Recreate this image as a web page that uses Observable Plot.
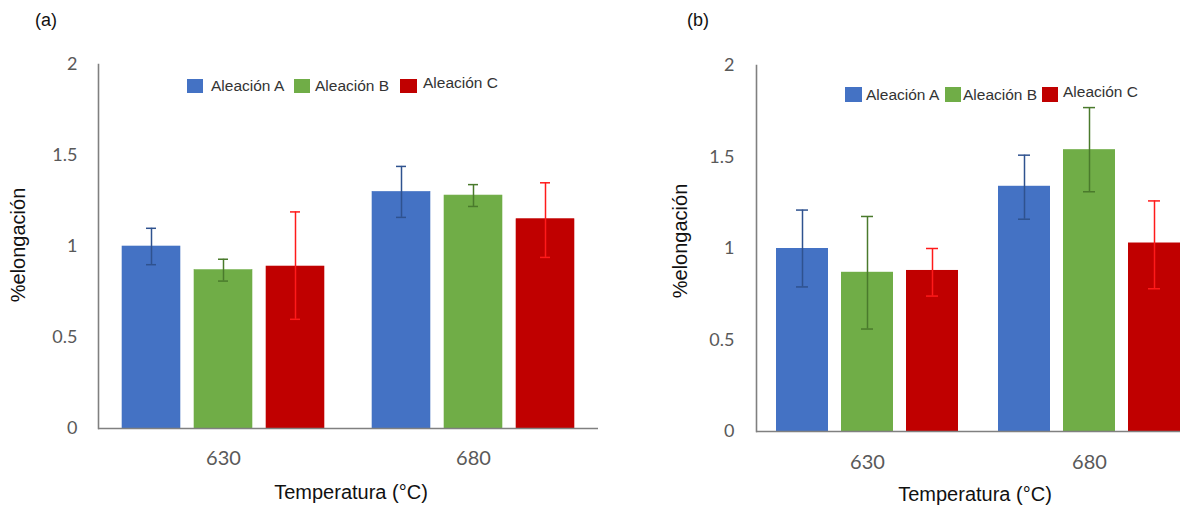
<!DOCTYPE html>
<html>
<head>
<meta charset="utf-8">
<script src="https://cdn.jsdelivr.net/npm/d3@7"></script>
<script src="https://cdn.jsdelivr.net/npm/@observablehq/plot@0.6"></script>
<style>
  html, body { margin: 0; padding: 0; background: #fff; overflow: hidden; }
  #wrap { position: relative; width: 1180px; height: 506px; overflow: hidden; background: #fff; }
  .panel { position: absolute; top: 0; width: 600px; height: 506px; }
  .panel svg { max-width: none !important; width: 600px; height: 506px; }
  .txt { position: absolute; font-family: "Liberation Sans", Arial, sans-serif; color: #111; white-space: nowrap; }
  .leg { position: absolute; font-family: "Liberation Sans", Arial, sans-serif; font-size: 15.5px; color: #333; white-space: nowrap; line-height: 1; }
  .sw { position: absolute; }
</style>
</head>
<body>
<div id="wrap"></div>
<script>
// ---- data ----
const temps = ["630", "680"];
const alloys = ["Aleación A", "Aleación B", "Aleación C"];
const barColors = ["#4472c4", "#70ad47", "#c00000"];
const errColors = ["#2f528f", "#4a7a2c", "#ff1a1a"];
const yTicks = [0, 0.5, 1, 1.5, 2];

// panel (a)
const a630 = [1.00, 0.87, 0.89];
const a680 = [1.30, 1.28, 1.15];
const a630Lo = [0.90, 0.81, 0.60];
const a630Hi = [1.10, 0.93, 1.19];
const a680Lo = [1.16, 1.22, 0.94];
const a680Hi = [1.44, 1.34, 1.35];

// panel (b)
const b630 = [1.00, 0.87, 0.88];
const b680 = [1.34, 1.54, 1.03];
const b630Lo = [0.79, 0.56, 0.74];
const b630Hi = [1.21, 1.175, 1.00];
const b680Lo = [1.16, 1.31, 0.78];
const b680Hi = [1.51, 1.77, 1.26];

function rows(m630, m680, lo630, lo680, hi630, hi680) {
  const out = [];
  temps.forEach((t, ti) => {
    const m = ti === 0 ? m630 : m680, lo = ti === 0 ? lo630 : lo680, hi = ti === 0 ? hi630 : hi680;
    alloys.forEach((a, ai) => out.push({temp: t, alloy: a, mean: m[ai], lo: lo[ai], hi: hi[ai]}));
  });
  return out;
}
const dataA = rows(a630, a680, a630Lo, a680Lo, a630Hi, a680Hi);
const dataB = rows(b630, b680, b630Lo, b680Lo, b630Hi, b680Hi);

function panel(data, o) {
  return Plot.plot({
    width: 600, height: 506,
    marginLeft: o.ml, marginRight: o.mr, marginTop: o.mt, marginBottom: o.mb,
    style: {fontFamily: "Lato, 'Open Sans', sans-serif", background: "transparent", maxWidth: "none"},
    fx: {domain: temps, padding: 0, label: null},
    x: {domain: alloys, paddingInner: o.pi, paddingOuter: o.po, axis: null},
    y: {domain: [0, 2], label: null},
    color: {domain: alloys, range: barColors},
    marks: [
      Plot.barY(data, {fx: "temp", x: "alloy", y: "mean", fill: "alloy", stroke: o.barStroke ? "alloy" : null, strokeWidth: 0.6}),
      ...alloys.map((a, i) => Plot.ruleX(data.filter(d => d.alloy === a), {fx: "temp", x: "alloy", y1: "lo", y2: "hi", stroke: errColors[i], strokeWidth: 1.5})),
      ...alloys.map((a, i) => Plot.tickY(data.filter(d => d.alloy === a), {fx: "temp", x: "alloy", y: "hi", stroke: errColors[i], strokeWidth: 1.5, inset: o.capInset})),
      ...alloys.map((a, i) => Plot.tickY(data.filter(d => d.alloy === a), {fx: "temp", x: "alloy", y: "lo", stroke: errColors[i], strokeWidth: 1.5, inset: o.capInset})),
      Plot.ruleY([0], {stroke: "#808080", strokeWidth: 1.6}),
      Plot.frame({anchor: "left", facetAnchor: "left", stroke: "#808080", strokeWidth: 1.6}),
      Plot.axisY({ticks: yTicks, tickFormat: d => String(d), tickSize: 0, tickPadding: o.ytp, fontSize: 18, color: "#595959", label: null}),
      Plot.axisFx({anchor: "bottom", tickSize: 0, tickPadding: o.xtp, fontSize: 20, color: "#595959", label: null})
    ]
  });
}

const wrap = document.getElementById("wrap");

const pa = panel(dataA, {ml: 98, mr: 2, mt: 64, mb: 78, pi: 0.188, po: 0.309, capInset: 24, ytp: 21, xtp: 22, barStroke: true});
const da = document.createElement("div"); da.className = "panel"; da.style.left = "0px"; da.appendChild(pa); wrap.appendChild(da);

const pb = panel(dataB, {ml: 156, mr: 0, mt: 65, mb: 75, pi: 0.197, po: 0.288, capInset: 20, ytp: 22, xtp: 23, barStroke: false});
const db = document.createElement("div"); db.className = "panel"; db.style.left = "600px"; db.appendChild(pb); wrap.appendChild(db);

// ---- texts ----
function addText(s, x, y, size, rotate) {
  const el = document.createElement("div");
  el.className = "txt";
  el.textContent = s;
  el.style.fontSize = size + "px";
  el.style.left = x + "px";
  el.style.top = y + "px";
  el.style.transform = "translate(-50%, -50%)" + (rotate ? " rotate(-90deg)" : "");
  wrap.appendChild(el);
}
addText("(a)", 46, 20, 18);
addText("(b)", 698, 20, 18);
addText("Temperatura (°C)", 351, 492, 20);
addText("Temperatura (°C)", 975, 494, 20);
addText("%elongación", 18, 245, 20, true);
addText("%elongación", 680, 241, 20, true);

// ---- legends ----
function legend(items) {
  items.forEach((it, i) => {
    const sw = document.createElement("div");
    sw.className = "sw";
    sw.style.left = it.sx + "px"; sw.style.top = it.sy + "px";
    sw.style.width = it.sw + "px"; sw.style.height = it.sh + "px";
    sw.style.background = barColors[i];
    wrap.appendChild(sw);
    const t = document.createElement("div");
    t.className = "leg";
    t.textContent = alloys[i];
    t.style.left = it.tx + "px"; t.style.top = (it.ty - 8) + "px";
    wrap.appendChild(t);
  });
}
legend([
  {sx: 187, sy: 79, sw: 16, sh: 14, tx: 211, ty: 86},
  {sx: 294, sy: 79, sw: 16, sh: 14, tx: 315, ty: 86},
  {sx: 400, sy: 79, sw: 17, sh: 14, tx: 423, ty: 83}
]);
legend([
  {sx: 845, sy: 87, sw: 17, sh: 15, tx: 866, ty: 95},
  {sx: 945, sy: 87, sw: 16, sh: 15, tx: 963, ty: 95},
  {sx: 1042, sy: 87, sw: 16, sh: 15, tx: 1063, ty: 92}
]);
</script>
</body>
</html>
